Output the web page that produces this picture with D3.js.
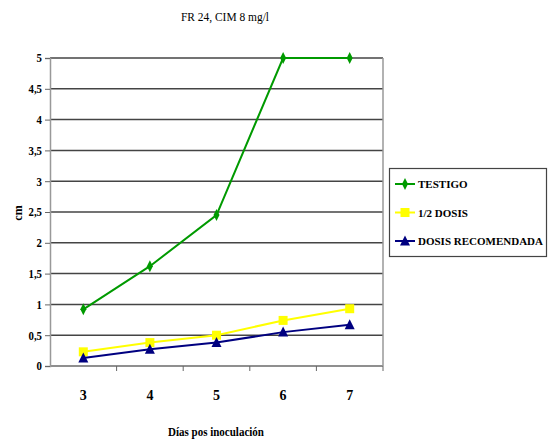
<!DOCTYPE html>
<html>
<head>
<meta charset="utf-8">
<script src="https://cdn.jsdelivr.net/npm/d3@7"></script>
<style>
  html, body { margin: 0; padding: 0; background: #fff; }
  text { font-family: "Liberation Serif", "Times New Roman", serif; }
</style>
</head>
<body>
<svg id="chart" width="553" height="447"></svg>
<script>
// Days after inoculation and lesion size (cm) per treatment
const days = ["3", "4", "5", "6", "7"];
const testigo = [0.92, 1.62, 2.45, 5, 5];
const mediaDosis = [0.23, 0.38, 0.5, 0.74, 0.93];
const dosisRecomendada = [0.13, 0.27, 0.38, 0.55, 0.67];
const yTicks = [0, 0.5, 1, 1.5, 2, 2.5, 3, 3.5, 4, 4.5, 5];
const yTickLabels = ["0", "0,5", "1", "1,5", "2", "2,5", "3", "3,5", "4", "4,5", "5"];
const seriesNames = ["TESTIGO", "1/2 DOSIS", "DOSIS RECOMENDADA"];

const series = [
  { name: seriesNames[0], values: testigo, color: "#009a00", marker: "diamond" },
  { name: seriesNames[1], values: mediaDosis, color: "#ffff00", marker: "square" },
  { name: seriesNames[2], values: dosisRecomendada, color: "#000080", marker: "triangle" }
];

const svg = d3.select("#chart");
const plot = { left: 50, right: 383, top: 58, bottom: 366 };

const x = d3.scaleBand().domain(days).range([plot.left, plot.right]);
const y = d3.scaleLinear().domain([0, 5]).range([plot.bottom, plot.top]);

// Title
svg.append("text")
  .attr("x", 225).attr("y", 21)
  .attr("text-anchor", "middle")
  .attr("font-size", 12)
  .attr("textLength", 88)
  .attr("lengthAdjust", "spacingAndGlyphs")
  .text("FR 24, CIM 8 mg/l");

// Horizontal gridlines
svg.append("g")
  .selectAll("line")
  .data(yTicks)
  .join("line")
  .attr("x1", plot.left).attr("x2", plot.right)
  .attr("y1", d => y(d)).attr("y2", d => y(d))
  .attr("stroke", "#444").attr("stroke-width", 1.5);

// Right border of plot area
svg.append("line")
  .attr("x1", plot.right).attr("x2", plot.right)
  .attr("y1", plot.top).attr("y2", plot.bottom)
  .attr("stroke", "#999").attr("stroke-width", 1.5);

// Y axis
const yAxis = d3.axisLeft(y)
  .tickValues(yTicks)
  .tickFormat((d, i) => yTickLabels[i])
  .tickSize(5)
  .tickPadding(3);
const gy = svg.append("g")
  .attr("transform", `translate(${plot.left},0)`)
  .call(yAxis);
gy.select(".domain").attr("stroke", "#999").attr("stroke-width", 1.5);
gy.selectAll(".tick line").attr("stroke", "#666");
gy.selectAll(".tick text")
  .attr("font-weight", "bold")
  .attr("font-size", 12)
  .attr("fill", "#000")
  .attr("transform", "scale(0.9,1)")
  .attr("x", -8 / 0.9);

// X axis (ticks between categories)
const gx = svg.append("g")
  .attr("transform", `translate(0,${plot.bottom})`);
gx.append("line")
  .attr("x1", plot.left).attr("x2", plot.right)
  .attr("stroke", "#999").attr("stroke-width", 1.5);
gx.selectAll("line.sep")
  .data(days)
  .join("line")
  .attr("class", "sep")
  .attr("x1", d => x(d) + x.bandwidth()).attr("x2", d => x(d) + x.bandwidth())
  .attr("y1", 0).attr("y2", 5)
  .attr("stroke", "#666");
gx.selectAll("text")
  .data(days)
  .join("text")
  .attr("x", d => x(d) + x.bandwidth() / 2)
  .attr("y", 34)
  .attr("text-anchor", "middle")
  .attr("font-weight", "bold")
  .attr("font-size", 14)
  .text(d => d);

// Axis titles
svg.append("text")
  .attr("x", 216).attr("y", 436)
  .attr("text-anchor", "middle")
  .attr("font-weight", "bold")
  .attr("font-size", 13)
  .attr("textLength", 96)
  .attr("lengthAdjust", "spacingAndGlyphs")
  .text("Días pos inoculación");

svg.append("text")
  .attr("transform", "translate(22,213) rotate(-90)")
  .attr("text-anchor", "middle")
  .attr("font-weight", "bold")
  .attr("font-size", 12)
  .text("cm");

// Marker shapes
const markerPath = {
  diamond: "M0,-6L3,0L0,6L-3,0Z",
  square: "M-4.5,-4.5H4.5V4.5H-4.5Z",
  triangle: "M0,-5.5L5,4.5H-5Z"
};

const line = d3.line()
  .x((d, i) => x(days[i]) + x.bandwidth() / 2)
  .y(d => y(d));

series.forEach(s => {
  const g = svg.append("g");
  g.append("path")
    .datum(s.values)
    .attr("fill", "none")
    .attr("stroke", s.color)
    .attr("stroke-width", 2)
    .attr("d", line);
  g.selectAll("path.m")
    .data(s.values)
    .join("path")
    .attr("class", "m")
    .attr("transform", (d, i) => `translate(${x(days[i]) + x.bandwidth() / 2},${y(d)})`)
    .attr("d", markerPath[s.marker])
    .attr("fill", s.color);
});

// Legend
const legend = svg.append("g");
legend.append("rect")
  .attr("x", 389.5).attr("y", 168.5)
  .attr("width", 157).attr("height", 88)
  .attr("fill", "#fff")
  .attr("stroke", "#444").attr("stroke-width", 1.2);
series.forEach((s, i) => {
  const cy = 184 + i * 28.5;
  legend.append("line")
    .attr("x1", 395).attr("x2", 415)
    .attr("y1", cy).attr("y2", cy)
    .attr("stroke", s.color).attr("stroke-width", 2);
  legend.append("path")
    .attr("transform", `translate(405,${cy})`)
    .attr("d", markerPath[s.marker])
    .attr("fill", s.color);
  legend.append("text")
    .attr("x", 418).attr("y", cy + 4)
    .attr("font-weight", "bold")
    .attr("font-size", 11)
    .text(s.name);
});
</script>
</body>
</html>
